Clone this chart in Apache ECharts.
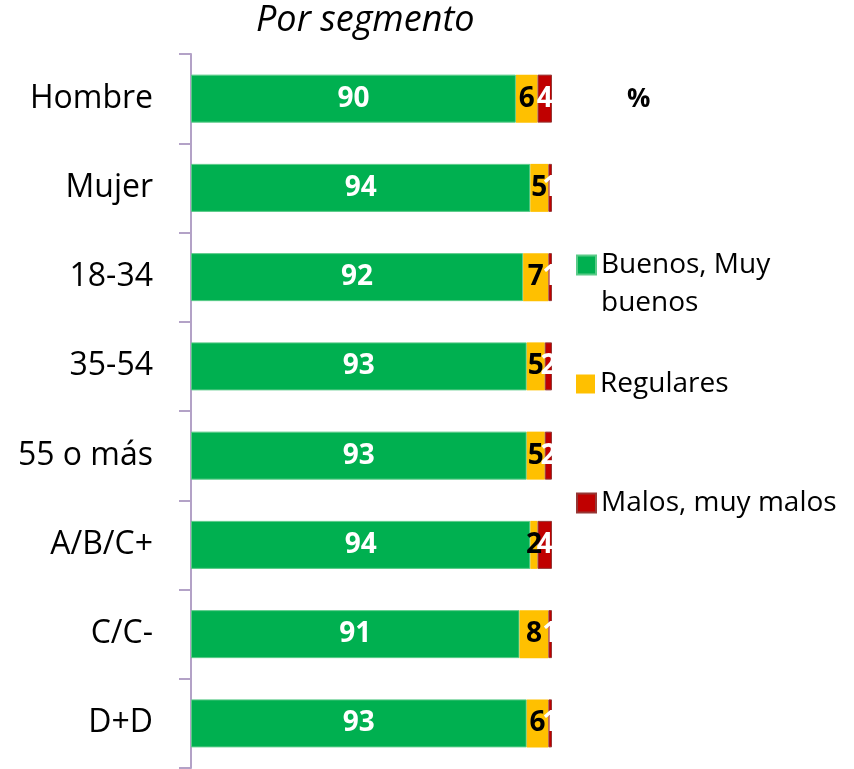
<!DOCTYPE html>
<html>
<head>
<meta charset="utf-8">
<script src="https://cdn.jsdelivr.net/npm/echarts@6/dist/echarts.min.js"></script>
<style>html,body{margin:0;padding:0;background:#fff}#c{width:854px;height:769px}</style>
</head>
<body>
<div id="c"></div>
<script>
const categories = ['Hombre', 'Mujer', '18-34', '35-54', '55 o más', 'A/B/C+', 'C/C-', 'D+D'];
const buenos = [90, 94, 92, 93, 93, 94, 91, 93];
const regulares = [6, 5, 7, 5, 5, 2, 8, 6];
const malos = [4, 1, 1, 2, 2, 4, 1, 1];
const seriesNames = ['Buenos, Muy buenos', 'Regulares', 'Malos, muy malos'];
const titleText = 'Por segmento';
const unitText = '%';

const FONT = '"Open Sans", "Noto Sans", sans-serif';
const chart = echarts.init(document.getElementById('c'), null, {renderer: 'canvas'});

const labelBase = {show: true, position: 'inside', fontFamily: FONT, fontWeight: 'bold', fontSize: 28};

const legendCommon = {
  orient: 'vertical', padding: 0, itemWidth: 19, itemHeight: 19, icon: 'rect',
  textStyle: {fontFamily: FONT, fontSize: 28, color: '#000', lineHeight: 38}
};

chart.setOption({
  animation: false,
  title: [
    {text: titleText, left: 256, top: 3, padding: 0,
     textStyle: {fontFamily: FONT, fontStyle: 'italic', fontWeight: 'normal', fontSize: 36, color: '#000'}},
    {text: unitText, left: 627, top: 87, padding: 0,
     textStyle: {fontFamily: FONT, fontWeight: 'bold', fontSize: 26, color: '#000'}}
  ],
  legend: [
    Object.assign({}, legendCommon, {data: [seriesNames[0]], left: 576, top: 208,
      formatter: n => '\nBuenos, Muy\nbuenos'}),
    Object.assign({}, legendCommon, {data: [seriesNames[1]], left: 576, top: 365}),
    Object.assign({}, legendCommon, {data: [seriesNames[2]], left: 576, top: 484})
  ],
  grid: {left: 191, right: 302, top: 54, bottom: 1, containLabel: false},
  xAxis: {type: 'value', min: 0, max: 100, show: false},
  yAxis: {
    type: 'category', data: categories, inverse: true, offset: 1,
    axisLine: {show: true, lineStyle: {color: '#B3A2C7', width: 2}},
    axisTick: {show: true, inside: false, length: 12, lineStyle: {color: '#B3A2C7', width: 2}},
    axisLabel: {fontFamily: FONT, fontSize: 32, color: '#000', margin: 37}
  },
  series: [
    {name: seriesNames[0], type: 'bar', stack: 't', barWidth: 48, data: buenos,
     itemStyle: {color: '#00B050', borderColor: '#5ACB88', borderWidth: 1},
     label: Object.assign({}, labelBase, {color: '#fff'})},
    {name: seriesNames[1], type: 'bar', stack: 't', barWidth: 48, data: regulares,
     itemStyle: {color: '#FFC000'},
     label: Object.assign({}, labelBase, {color: '#000'})},
    {name: seriesNames[2], type: 'bar', stack: 't', barWidth: 48, data: malos,
     itemStyle: {color: '#C00000', borderColor: '#953735', borderWidth: 1},
     label: Object.assign({}, labelBase, {color: '#fff'})}
  ]
});
</script>
</body>
</html>
